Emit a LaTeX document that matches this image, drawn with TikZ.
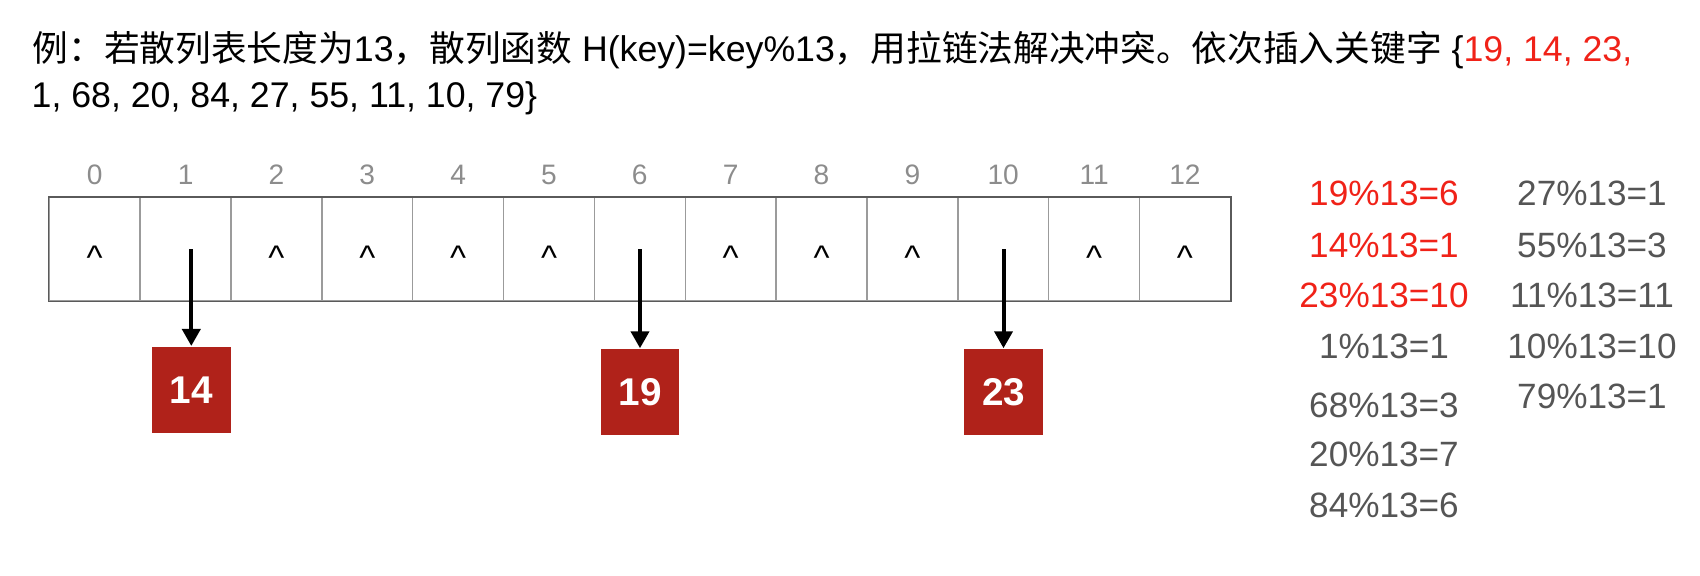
\documentclass[tikz,border=0pt]{standalone}
\usepackage{fontspec}
\setmainfont{Liberation Sans}
\newfontfamily\cjk{Noto Sans CJK SC}
\usetikzlibrary{arrows.meta}
\definecolor{keyred}{RGB}{240,34,24}
\definecolor{boxred}{RGB}{176,34,26}
\definecolor{idxgray}{RGB}{140,140,140}
\definecolor{eqgray}{RGB}{85,85,85}
\definecolor{cellgray}{RGB}{155,155,155}
\definecolor{bordergray}{RGB}{90,90,90}
\tikzset{
  cell/.style={draw=cellgray, line width=0.4pt, minimum width=0.9085cm, minimum height=1.033cm,
    inner sep=0pt, text height=0.4cm, text depth=0pt, font=\fontsize{9.7}{10}\selectfont},
  idx/.style={text=idxgray, inner sep=0pt, font=\fontsize{8}{9}\selectfont},
  every label/.style={idx},
  keybox/.style={fill=boxred, text=white, minimum width=0.787cm, minimum height=0.86cm,
    inner sep=0pt, font=\fontsize{11}{12}\selectfont\bfseries},
  eq/.style={text=eqgray, inner sep=0pt, font=\fontsize{10}{12}\selectfont},
  ptr/.style={-{Triangle[width=0.18cm,length=0.17cm]}, line width=0.04cm},
  head/.style={anchor=base west, inner sep=0pt, font=\fontsize{10.15}{12}\selectfont},
}
\begin{document}
\begin{tikzpicture}[x=0.01cm,y=-0.01cm,label distance=0.117cm]
	\useasboundingbox (0,0) rectangle (1700,576);
	% question
	\node[head] (line1) at (32,62) {{\cjk 例：若散列表长度为}13{\cjk ，散列函数} H(key)=key\%13{\cjk ，用拉链法解决冲突。依次插入关键字} \{\textcolor{keyred}{19, 14, 23,}};
	\node[head] (line2) at (31,108) {1, 68, 20, 84, 27, 55, 11, 10, 79\}};
	% hash table
	\node[cell, label=above:0] (c0) at (94.7,249.3) {\textasciicircum};
	\node[cell, label=above:1] (c1) at (185.6,249.3) {};
	\node[cell, label=above:2] (c2) at (276.4,249.3) {\textasciicircum};
	\node[cell, label=above:3] (c3) at (367.3,249.3) {\textasciicircum};
	\node[cell, label=above:4] (c4) at (458.1,249.3) {\textasciicircum};
	\node[cell, label=above:5] (c5) at (549.0,249.3) {\textasciicircum};
	\node[cell, label=above:6] (c6) at (639.8,249.3) {};
	\node[cell, label=above:7] (c7) at (730.7,249.3) {\textasciicircum};
	\node[cell, label=above:8] (c8) at (821.5,249.3) {\textasciicircum};
	\node[cell, label=above:9] (c9) at (912.4,249.3) {\textasciicircum};
	\node[cell, label=above:10] (c10) at (1003.2,249.3) {};
	\node[cell, label=above:11] (c11) at (1094.1,249.3) {\textasciicircum};
	\node[cell, label=above:12] (c12) at (1184.9,249.3) {\textasciicircum};
	\draw[bordergray, line width=0.4pt] (c0.north west) rectangle (c12.south east);
	% chained keys
	\node[keybox] (k14) at (191.3,389.7) {14};
	\node[keybox] (k19) at (640,392) {19};
	\node[keybox] (k23) at (1003.5,392) {23};
	\draw[ptr] (k14 |- c1.center) -- (k14.north);
	\draw[ptr] (k19 |- c6.center) -- (k19.north);
	\draw[ptr] (k23 |- c10.center) -- (k23.north);
	% hash values
	\node[eq, text=keyred] (h19) at (1384,193.3) {19\%13=6};
	\node[eq, text=keyred] (h14) at (1384,245) {14\%13=1};
	\node[eq, text=keyred] (h23) at (1384,295) {23\%13=10};
	\node[eq] (h1) at (1384,346) {1\%13=1};
	\node[eq] (h68) at (1384,405) {68\%13=3};
	\node[eq] (h20) at (1384,454) {20\%13=7};
	\node[eq] (h84) at (1384,505) {84\%13=6};
	\node[eq] (h27) at (1592,193.3) {27\%13=1};
	\node[eq] (h55) at (1592,245) {55\%13=3};
	\node[eq] (h11) at (1592,295) {11\%13=11};
	\node[eq] (h10) at (1592,346) {10\%13=10};
	\node[eq] (h79) at (1592,396.7) {79\%13=1};
\end{tikzpicture}
\end{document}
